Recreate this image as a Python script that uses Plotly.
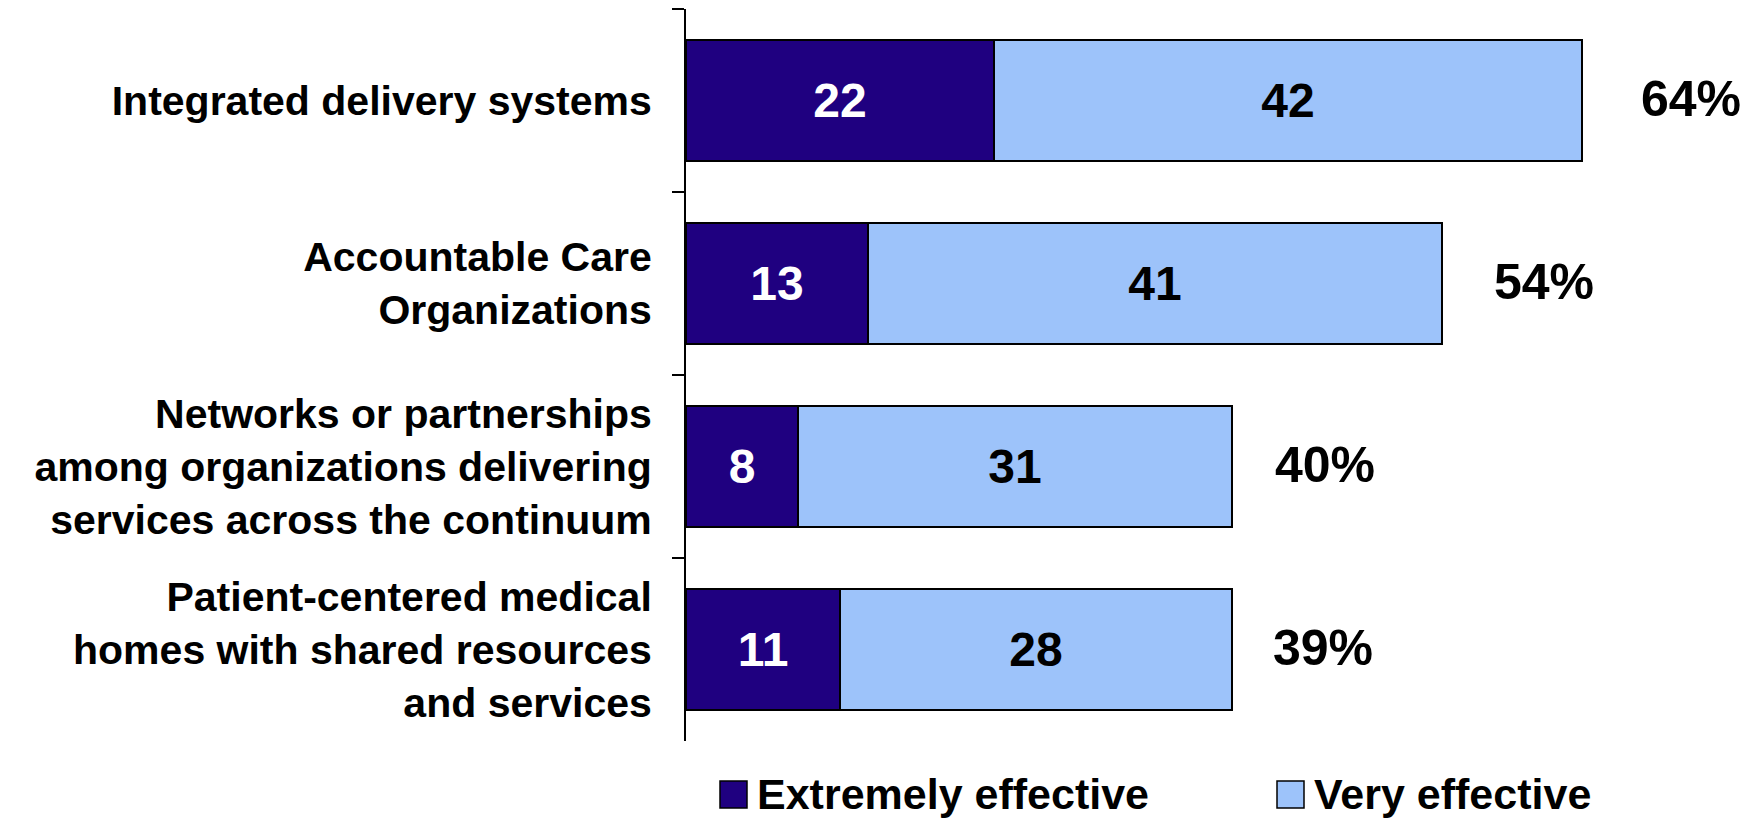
import plotly.graph_objects as go

categories = [
    "Integrated delivery systems",
    "Accountable Care<br>Organizations",
    "Networks or partnerships<br>among organizations delivering<br>services across the continuum",
    "Patient-centered medical<br>homes with shared resources<br>and services",
]
extremely_effective = [22, 13, 8, 11]
very_effective = [42, 41, 31, 28]
total_labels = ["64%", "54%", "40%", "39%"]
series_names = ["Extremely effective", "Very effective"]

DARK = "#1F0080"
LIGHT = "#9DC3FA"
FONT = "Arial, Liberation Sans, sans-serif"

fig = go.Figure()
fig.add_trace(go.Bar(
    y=categories, x=extremely_effective, orientation="h", name=series_names[0],
    marker=dict(color=DARK, line=dict(color="black", width=2)),
    text=[str(v) for v in extremely_effective], textposition="inside",
    insidetextanchor="middle", constraintext="none",
    textfont=dict(family=FONT, size=48, color="white", weight="bold"),
    showlegend=False, hoverinfo="skip",
))
fig.add_trace(go.Bar(
    y=categories, x=very_effective, orientation="h", name=series_names[1],
    marker=dict(color=LIGHT, line=dict(color="black", width=2)),
    text=[str(v) for v in very_effective], textposition="inside",
    insidetextanchor="middle", constraintext="none",
    textfont=dict(family=FONT, size=48, color="black", weight="bold"),
    showlegend=False, hoverinfo="skip",
))

# total labels to the right of each bar
label_shift = [57, 50, 41, 39]
for cat, a, b, lab, sh in zip(categories, extremely_effective, very_effective, total_labels, label_shift):
    fig.add_annotation(
        x=a + b, y=cat, xref="x", yref="y", text=lab, showarrow=False,
        xanchor="left", yanchor="middle", xshift=sh, yshift=2,
        font=dict(family=FONT, size=50, color="black", weight="bold"),
    )

# custom legend below the plot
PLOT_L, PLOT_R, PLOT_T, PLOT_B = 686, 1757, 9, 741
W, H = PLOT_R - PLOT_L, PLOT_B - PLOT_T
def px(xp):
    return (xp - PLOT_L) / W
def py(yp):
    return (PLOT_B - yp) / H

legend_items = [(series_names[0], DARK, 720, 755), (series_names[1], LIGHT, 1277, 1312)]
for name, col, sx, tx in legend_items:
    fig.add_shape(
        type="rect", xref="paper", yref="paper",
        x0=px(sx), x1=px(sx + 27), y0=py(781), y1=py(808),
        fillcolor=col, line=dict(color="black", width=1.5),
    )
    fig.add_annotation(
        x=px(tx), y=py(794), xref="paper", yref="paper", text=name,
        showarrow=False, xanchor="left", yanchor="middle",
        font=dict(family=FONT, size=43, color="black", weight="bold"),
    )

fig.update_layout(
    width=1757, height=818,
    margin=dict(l=PLOT_L, r=1757 - PLOT_R, t=PLOT_T, b=818 - PLOT_B, pad=0),
    barmode="stack", bargap=0.344,
    plot_bgcolor="white", paper_bgcolor="white",
    font=dict(family=FONT, color="black"),
    showlegend=False,
    xaxis=dict(visible=False, range=[0, W / 14.0]),
    yaxis=dict(
        type="category", range=[3.5, -0.5],
        showline=True, linecolor="black", linewidth=2,
        ticks="outside", ticklen=12, tickwidth=2, tickcolor="black",
        tickson="boundaries", showgrid=False, zeroline=False,
        tickfont=dict(family=FONT, size=41, color="black", weight="bold"),
        ticklabelstandoff=24,
    ),
)

fig.write_html("out.html", config={"displayModeBar": False},
               post_script="document.body.style.margin='0';")
